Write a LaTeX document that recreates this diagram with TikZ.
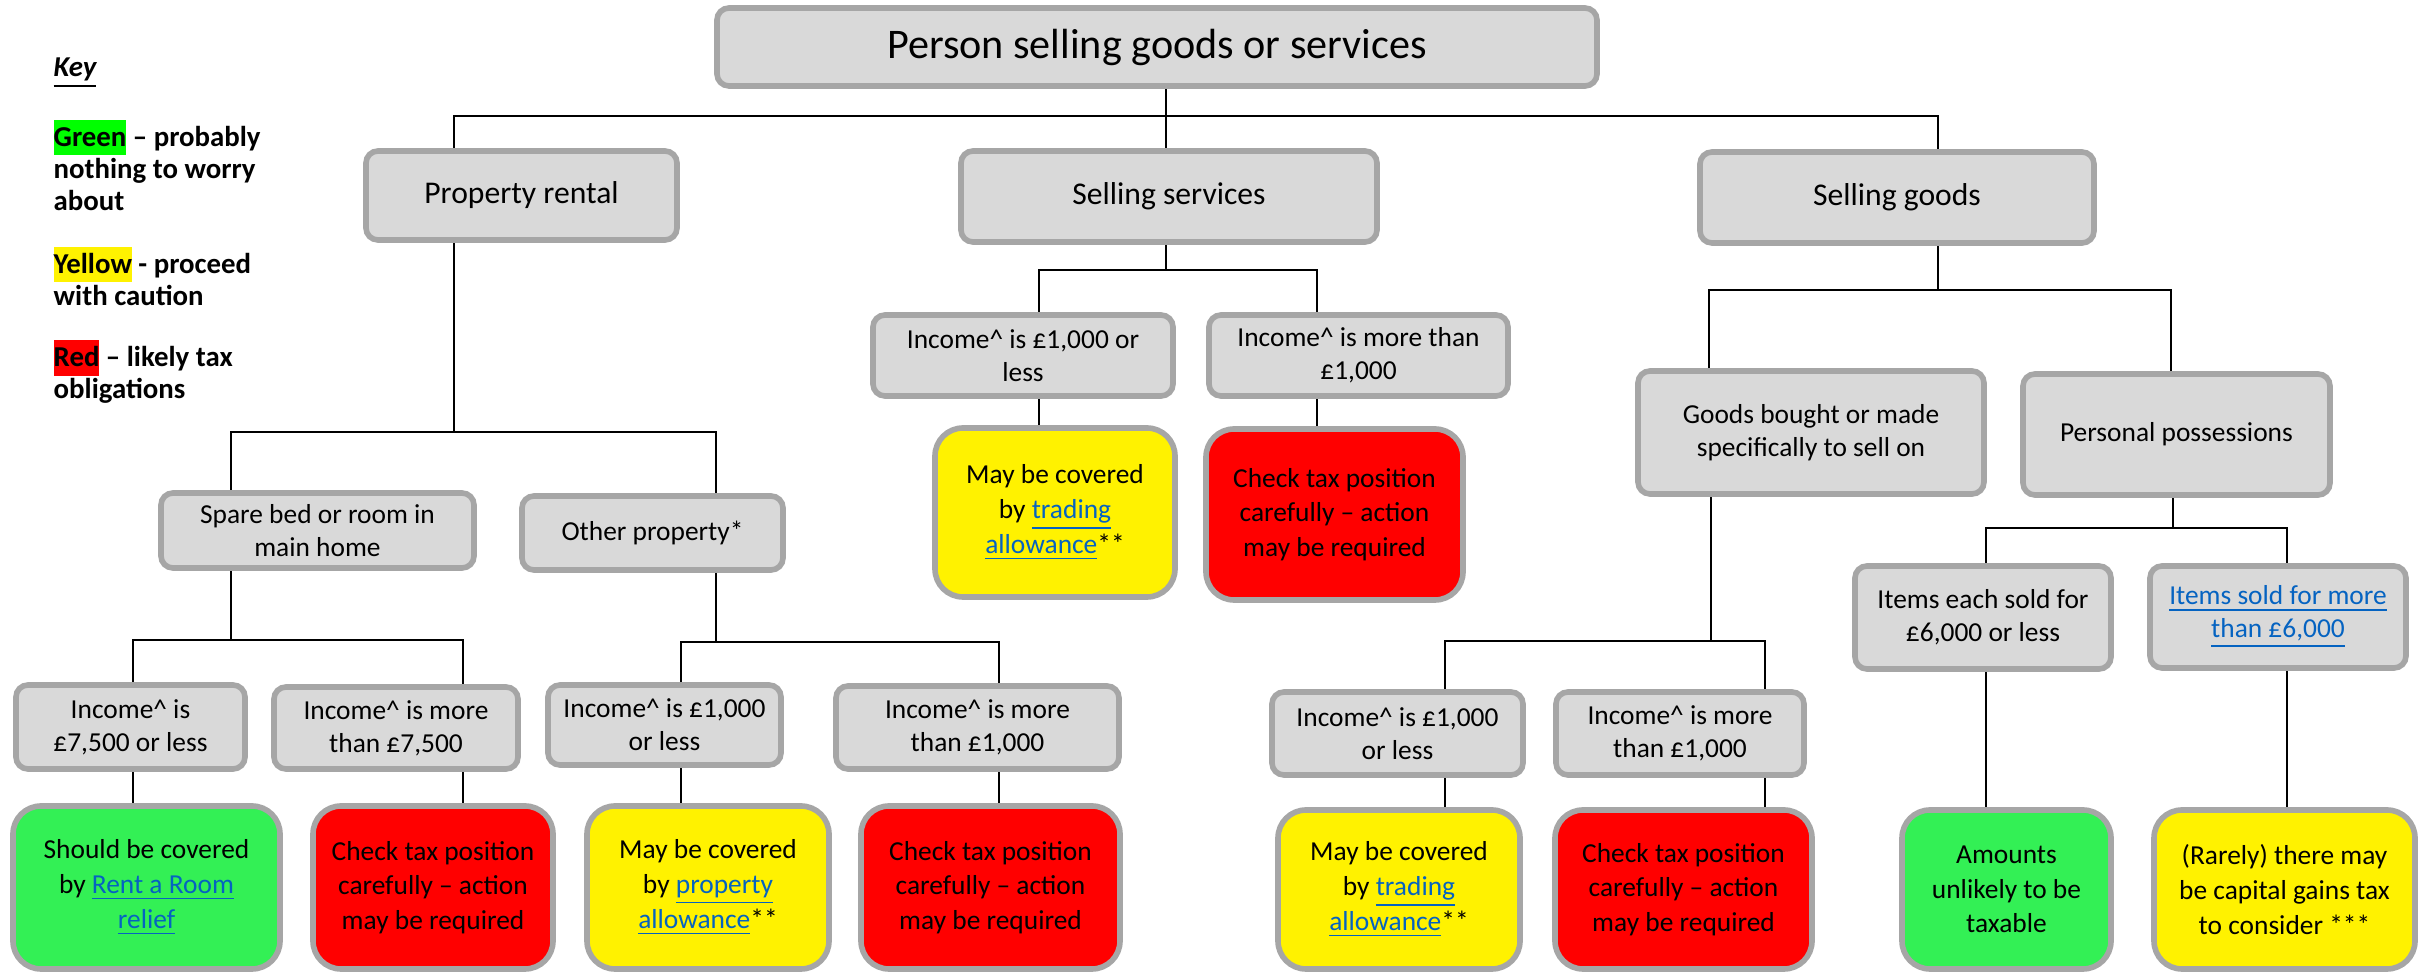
\documentclass[tikz,border=0pt]{standalone}
\usepackage{fontspec}
\setmainfont{Carlito}
\usepackage{xcolor}
\usetikzlibrary{backgrounds}

\definecolor{boxgray}{HTML}{D9D9D9}
\definecolor{edgegray}{HTML}{A6A6A6}
\definecolor{okgreen}{HTML}{33F055}
\definecolor{hlgreen}{HTML}{00FF00}
\definecolor{linkblue}{HTML}{0563C1}

\newcommand{\lnk}[1]{\textcolor{linkblue}{\underline{#1}}}
\newcommand{\hl}[2]{{\setlength{\fboxsep}{0pt}\colorbox{#1}{\rule[-2.6pt]{0pt}{10.2pt}#2}}}
\newcommand{\inc}{Income\textasciicircum{}}

\tikzset{
  box/.style={draw=edgegray, line width=1.6pt, fill=boxgray, rounded corners=1.2mm,
    align=center, inner sep=0pt, font=\fontsize{7.8}{9.4}\selectfont},
  headbox/.style={box, font=\fontsize{9}{10.8}\selectfont},
  leaf/.style={box, rounded corners=2.8mm, font=\fontsize{7.8}{9.9}\selectfont},
  link/.style={line width=0.6pt},
  keytext/.style={anchor=west, align=left, inner sep=0pt,
    font=\fontsize{8.2}{9.1}\selectfont\bfseries}
}

\begin{document}
\begin{tikzpicture}[x=0.1mm, y=-0.1mm]

    \useasboundingbox (0,0) rectangle (2433,973);

    % key
    \node[anchor=west, inner sep=0pt, font=\fontsize{8.2}{9.4}\selectfont\bfseries\itshape] (key) at (53,73) {\underline{Key}};
    \node[keytext] (kgreen) at (53,165) {\hl{hlgreen}{Green} – probably\\nothing to worry\\about};
    \node[keytext] (kyellow) at (53,276) {\hl{yellow}{Yellow} - proceed\\with caution};
    \node[keytext] (kred) at (53,372) {\hl{red}{Red} – likely tax\\obligations};

    % top levels
    \node[box, font=\fontsize{12}{14}\selectfont, minimum width=88.0mm, minimum height=7.8mm] (top) at (1157,47) {Person selling goods or services};
    \node[headbox, minimum width=31.1mm, minimum height=8.9mm] (pr) at (521.5,195.5) {Property rental};
    \node[headbox, minimum width=41.6mm, minimum height=9.1mm] (ss) at (1169,196.5) {Selling services};
    \node[headbox, minimum width=39.4mm, minimum height=9.1mm] (sg) at (1897,197.5) {Selling goods};

    % property rental
    \node[box, minimum width=31.3mm, minimum height=7.5mm] (spare) at (317.5,530.5) {Spare bed or room in\\main home};
    \node[box, minimum width=26.1mm, minimum height=7.4mm] (other) at (652.5,533) {Other property*};
    \node[box, minimum width=22.9mm, minimum height=8.4mm] (r1) at (130.5,727) {\inc{} is\\£7,500 or less};
    \node[box, minimum width=24.4mm, minimum height=8.2mm] (r2) at (396,728) {\inc{} is more\\than £7,500};
    \node[box, minimum width=23.3mm, minimum height=8.0mm] (p1) at (664.5,725) {\inc{} is £1,000\\or less};
    \node[box, minimum width=28.3mm, minimum height=8.3mm] (p2) at (977.5,727.5) {\inc{} is more\\than £1,000};
    \node[leaf, fill=okgreen, minimum width=26.7mm, minimum height=16.3mm] (l1) at (146.5,887.5) {Should be covered\\by \lnk{Rent a Room}\\\lnk{relief}};
    \node[leaf, fill=red, minimum width=24.0mm, minimum height=16.3mm] (l2) at (433,887.5) {Check tax position\\carefully – action\\may be required};
    \node[leaf, fill=yellow, minimum width=24.2mm, minimum height=16.3mm] (l3) at (708,887.5) {May be covered\\by \lnk{property}\\\lnk{allowance}**};
    \node[leaf, fill=red, minimum width=25.9mm, minimum height=16.3mm] (l4) at (990.5,887.5) {Check tax position\\carefully – action\\may be required};

    % selling services
    \node[box, minimum width=30.0mm, minimum height=8.1mm] (s1) at (1023,355.5) {\inc{} is £1,000 or\\less};
    \node[box, minimum width=29.9mm, minimum height=8.1mm] (s2) at (1358.5,355.5) {\inc{} is more than\\£1,000};
    \node[leaf, fill=yellow, minimum width=24.0mm, minimum height=16.9mm] (sy) at (1055,512.5) {May be covered\\by \lnk{trading}\\\lnk{allowance}**};
    \node[leaf, fill=red, minimum width=25.7mm, minimum height=17.1mm] (sr) at (1334.5,514.5) {Check tax position\\carefully – action\\may be required};

    % selling goods
    \node[box, minimum width=34.6mm, minimum height=12.3mm] (gb) at (1811,432.5) {Goods bought or made\\specifically to sell on};
    \node[box, minimum width=30.7mm, minimum height=12.1mm] (pp) at (2176.5,434.5) {Personal possessions};
    \node[box, minimum width=25.1mm, minimum height=8.3mm] (g1) at (1397.5,733.5) {\inc{} is £1,000\\or less};
    \node[box, minimum width=24.8mm, minimum height=8.3mm] (g2) at (1680,733.5) {\inc{} is more\\than £1,000};
    \node[box, minimum width=25.6mm, minimum height=10.3mm] (i1) at (1983,617.5) {Items each sold for\\£6,000 or less};
    \node[box, minimum width=25.6mm, minimum height=10.2mm] (i2) at (2278,617) {\lnk{Items sold for more}\\\lnk{than £6,000}};
    \node[leaf, fill=yellow, minimum width=24.2mm, minimum height=15.9mm] (l5) at (1399,889.5) {May be covered\\by \lnk{trading}\\\lnk{allowance}**};
    \node[leaf, fill=red, minimum width=25.7mm, minimum height=15.9mm] (l6) at (1683.5,889.5) {Check tax position\\carefully – action\\may be required};
    \node[leaf, fill=okgreen, minimum width=20.9mm, minimum height=15.9mm] (l7) at (2006.5,889.5) {Amounts\\unlikely to be\\taxable};
    \node[leaf, fill=yellow, minimum width=26.1mm, minimum height=15.9mm] (l8) at (2284.5,889.5) {(Rarely) there may\\be capital gains tax\\to consider ***};

    % bus joints
    \coordinate (b0) at (1166,116);  \coordinate (b0l) at (454,116);  \coordinate (b0r) at (1938,116);
    \coordinate (b1) at (454,432);   \coordinate (b1l) at (231,432);  \coordinate (b1r) at (716,432);
    \coordinate (b2) at (231,640);   \coordinate (b2l) at (133,640);  \coordinate (b2r) at (463,640);
    \coordinate (b3) at (716,642);   \coordinate (b3l) at (681,642);  \coordinate (b3r) at (999,642);
    \coordinate (b4) at (1166,270);  \coordinate (b4l) at (1039,270); \coordinate (b4r) at (1317,270);
    \coordinate (b5) at (1938,290);  \coordinate (b5l) at (1709,290); \coordinate (b5r) at (2171,290);
    \coordinate (b6) at (1711,641);  \coordinate (b6l) at (1445,641); \coordinate (b6r) at (1765,641);
    \coordinate (b7) at (2173,528);  \coordinate (b7l) at (1986,528); \coordinate (b7r) at (2287,528);

    \begin{scope}[on background layer, link]
    \draw (top.south -| b0) -- (ss.north -| b0);
    \draw (pr.north -| b0l) -- (b0l) -- (b0r) -- (sg.north -| b0r);

    \draw (pr.south -| b1) -- (b1);
    \draw (spare.north -| b1l) -- (b1l) -- (b1r) -- (other.north -| b1r);
    \draw (spare.south -| b2) -- (b2);
    \draw (r1.north -| b2l) -- (b2l) -- (b2r) -- (r2.north -| b2r);
    \draw (r1.south -| b2l) -- (l1.north -| b2l);
    \draw (r2.south -| b2r) -- (l2.north -| b2r);
    \draw (other.south -| b3) -- (b3);
    \draw (p1.north -| b3l) -- (b3l) -- (b3r) -- (p2.north -| b3r);
    \draw (p1.south -| b3l) -- (l3.north -| b3l);
    \draw (p2.south -| b3r) -- (l4.north -| b3r);

    \draw (ss.south -| b4) -- (b4);
    \draw (s1.north -| b4l) -- (b4l) -- (b4r) -- (s2.north -| b4r);
    \draw (s1.south -| b4l) -- (sy.north -| b4l);
    \draw (s2.south -| b4r) -- (sr.north -| b4r);

    \draw (sg.south -| b5) -- (b5);
    \draw (gb.north -| b5l) -- (b5l) -- (b5r) -- (pp.north -| b5r);
    \draw (gb.south -| b6) -- (b6);
    \draw (g1.north -| b6l) -- (b6l) -- (b6r) -- (g2.north -| b6r);
    \draw (g1.south -| b6l) -- (l5.north -| b6l);
    \draw (g2.south -| b6r) -- (l6.north -| b6r);
    \draw (pp.south -| b7) -- (b7);
    \draw (i1.north -| b7l) -- (b7l) -- (b7r) -- (i2.north -| b7r);
    \draw (i1.south -| b7l) -- (l7.north -| b7l);
    \draw (i2.south -| b7r) -- (l8.north -| b7r);
    \end{scope}

\end{tikzpicture}
\end{document}
